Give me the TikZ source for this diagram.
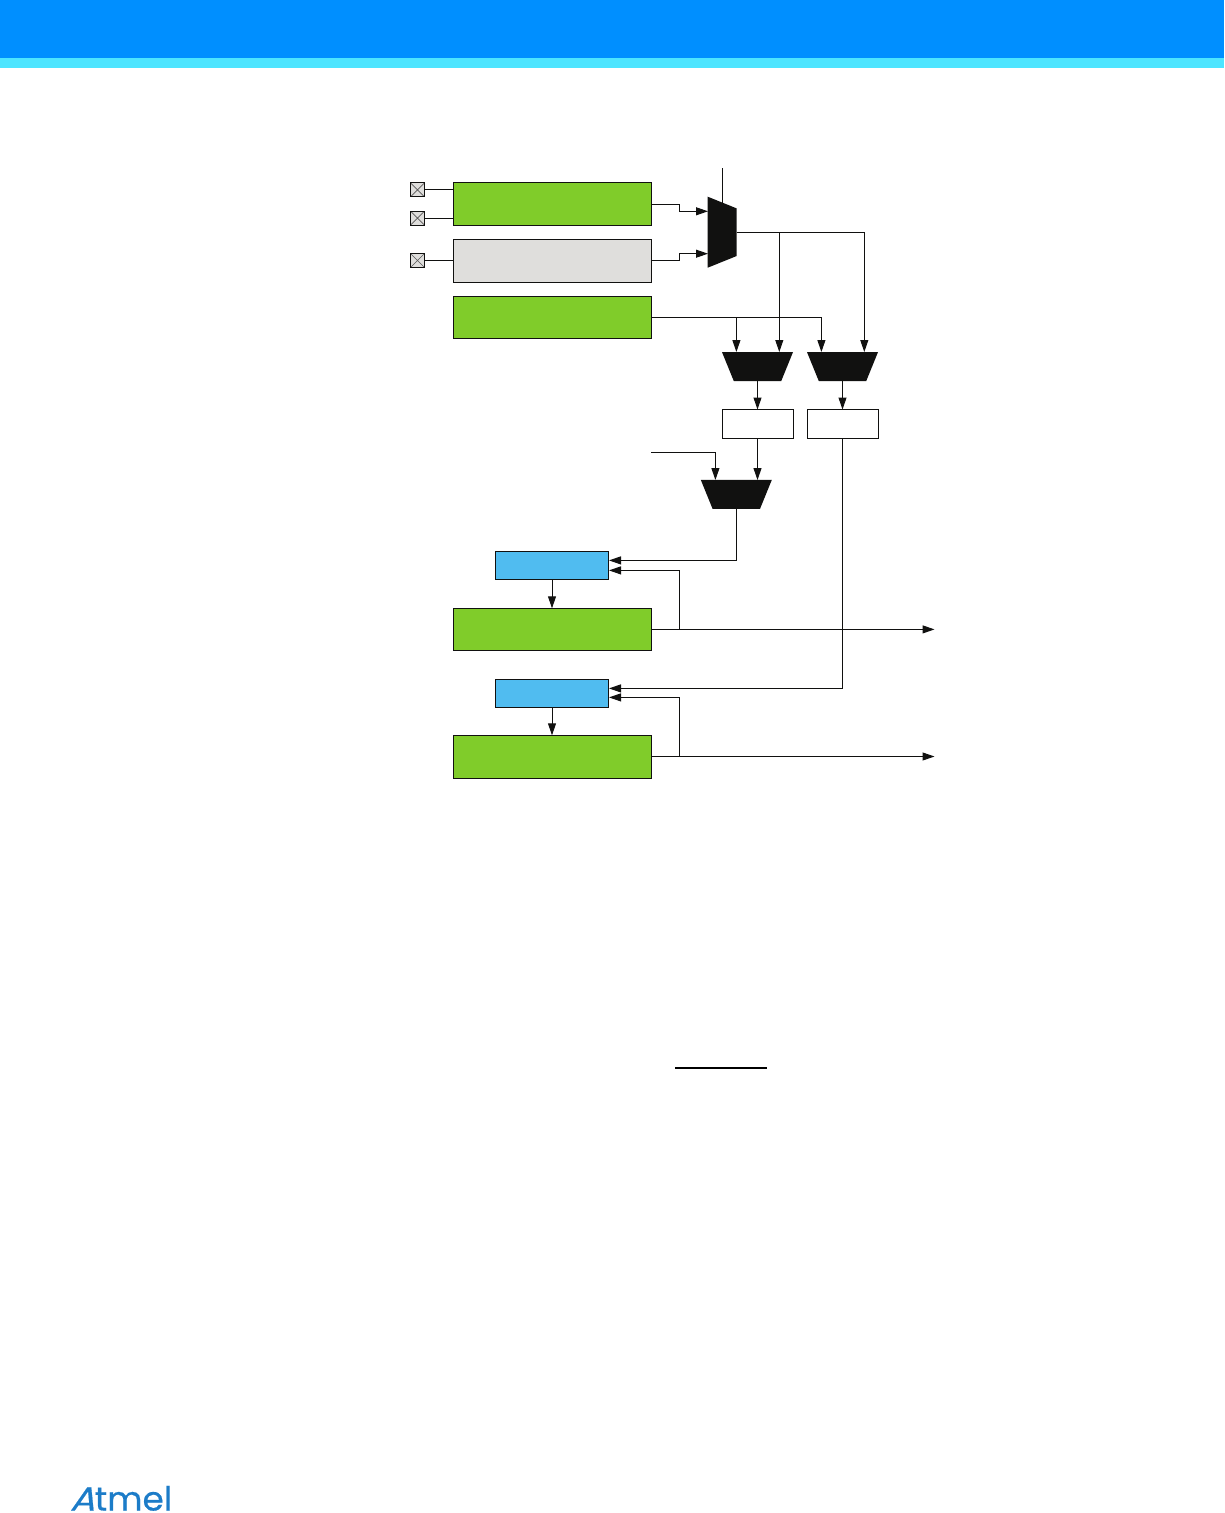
\documentclass[tikz,border=0pt]{standalone}
\usepackage{fontspec}
\usetikzlibrary{arrows.meta,calc}
\newfontfamily\logofont[FakeBold=0.5,FakeStretch=1.03]{Poppins}
\newfontfamily\logoslant[FakeSlant=0.3,FakeBold=0.5,FakeStretch=1.1]{Poppins}
\definecolor{lgreen}{HTML}{80CC2A}
\definecolor{lgray}{HTML}{DFDEDC}
\definecolor{lblue}{HTML}{50BCF0}
\definecolor{ink}{HTML}{111110}
\definecolor{hblue}{HTML}{008FFF}
\definecolor{hcyan}{HTML}{4DE5FF}
\definecolor{atmelblue}{HTML}{1C7CC8}
\tikzset{
  x=0.75pt,y=-0.75pt,
  every node/.style={inner sep=0pt,outer sep=0pt},
  block/.style={draw=ink,line width=0.75pt,minimum width=148.5pt,minimum height=31.5pt},
  greenblock/.style={block,fill=lgreen},
  grayblock/.style={block,fill=lgray},
  blueblock/.style={draw=ink,line width=0.75pt,fill=lblue,minimum width=84.75pt,minimum height=21pt},
  whitebox/.style={draw=ink,line width=0.75pt,fill=white,minimum width=53pt,minimum height=21.75pt},
  pad/.style={draw=ink,line width=0.75pt,fill=lgray,minimum width=10.5pt,minimum height=10.5pt,
    path picture={\draw[line width=0.5pt,ink!70] (path picture bounding box.north west)--(path picture bounding box.south east)
      (path picture bounding box.north east)--(path picture bounding box.south west);}},
  hmux/.style={minimum width=53.25pt,minimum height=21.75pt},
  vmux/.style={minimum width=21.75pt,minimum height=53.25pt},
  muxfill/.style={fill=ink},
  wire/.style={draw=ink,line width=0.75pt},
  arrow/.style={wire,-{Triangle[length=9pt,width=6pt]}},
}
\newcommand{\hmuxshape}[1]{\fill[muxfill] (#1.north west) -- (#1.north east) -- ($(#1.south east)+(-11.8,0)$) -- ($(#1.south west)+(11.8,0)$) -- cycle;}
\newcommand{\vmuxshape}[1]{\fill[muxfill] (#1.north west) -- ($(#1.north east)+(0,11.7)$) -- ($(#1.south east)+(0,-11.7)$) -- (#1.south west) -- cycle;}
\begin{document}
\begin{tikzpicture}
\useasboundingbox (0,0) rectangle (1224,1513);
% header bands
\node[fill=hblue,minimum width=918pt,minimum height=43.5pt,anchor=north west] (headerband) at (0,0) {};
\node[fill=hcyan,minimum width=918pt,minimum height=7.5pt,anchor=north west] (headerstripe) at (0,58) {};

% blocks
\node[greenblock,minimum height=32.25pt] (g1) at (552.5,203.8) {};
\node[grayblock,minimum height=32.25pt] (gy) at (552.5,260.8) {};
\node[greenblock] (g2) at (552.5,317.3) {};
\node[greenblock] (g3) at (552.5,629.3) {};
\node[greenblock,minimum height=32.25pt] (g4) at (552.5,756.8) {};
\node[blueblock] (b1) at (552,565.3) {};
\node[blueblock] (b2) at (552,693.3) {};
\node[whitebox] (r1) at (758,424) {};
\node[whitebox] (r2) at (843,424) {};
% pads
\node[pad] (p1) at (417.5,189.8) {};
\node[pad] (p2) at (417.5,218.2) {};
\node[pad] (p3) at (417.5,260.5) {};
% muxes
\node[vmux] (m0) at (722.2,232.2) {};
\node[hmux] (m1) at (757.5,366.6) {};
\node[hmux] (m2) at (842.5,366.6) {};
\node[hmux] (m3) at (736.3,494.4) {};
\vmuxshape{m0}
\hmuxshape{m1}
\hmuxshape{m2}
\hmuxshape{m3}

% named free ends and targets
\coordinate (sel) at (722.2,168);
\coordinate (selend) at (722.2,203);
\coordinate (g1o) at (651.7,204.3);
\coordinate (gyo) at (651.7,260.4);
\coordinate (g2o) at (651.7,317.4);
\coordinate (g3o) at (651.7,629.4);
\coordinate (g4o) at (651.7,756.5);
\coordinate (m0in1) at (708,211.3);
\coordinate (m0in2) at (708,253.7);
\coordinate (j1) at (679.4,204.3);
\coordinate (j2) at (679.4,260.4);
\coordinate (m0out) at (736.5,232.3);
\coordinate (m1a) at (736.4,352);
\coordinate (m1b) at (779.3,352);
\coordinate (m2a) at (821.4,352);
\coordinate (m2b) at (864.3,352);
\coordinate (extin) at (651,452.3);
\coordinate (m3a) at (715.4,480);
\coordinate (m3b) at (757.5,480);
\coordinate (b1a) at (609,560.4);
\coordinate (b1b) at (609,570.4);
\coordinate (b2a) at (609,688.4);
\coordinate (b2b) at (609,697.4);
\coordinate (g3fb) at (679.4,629.4);
\coordinate (g4fb) at (679.4,756.5);
\coordinate (out1) at (934.5,629.4);
\coordinate (out2) at (934.5,756.5);
\coordinate (barl) at (675,1068);
\coordinate (barr) at (767,1068);

% pad connections
\draw[wire] (p1.east) -- (p1.east -| g1.west);
\draw[wire] (p2.east) -- (p2.east -| g1.west);
\draw[wire] (p3.east) -- (p3.east -| gy.west);
% top mux
\draw[wire] (sel) -- (selend);
\draw[arrow] (g1o) -- (j1) |- (m0in1);
\draw[arrow] (gyo) -- (j2) |- (m0in2);
\draw[arrow] (m0out) -| (m1b);
\draw[arrow] (m0out) -| (m2b);
\draw[arrow] (g2o) -| (m2a);
\draw[arrow] (g2o) -| (m1a);
% mux to registers
\draw[arrow] (m1.south) -- (m1.south |- r1.north);
\draw[arrow] (m2.south) -- (m2.south |- r2.north);
\draw[arrow] (m3b |- r1.south) -- (m3b);
\draw[arrow] (extin) -| (m3a);
% to blue blocks
\draw[arrow] (m3.south) |- (b1a);
\draw[arrow] (m2.south |- r2.south) |- (b2a);
\draw[arrow] (b1.south) -- (b1.south |- g3.north);
\draw[arrow] (b2.south) -- (b2.south |- g4.north);
\draw[arrow] (g3fb) |- (b1b);
\draw[arrow] (g4fb) |- (b2b);
\draw[arrow] (g3o) -- (out1);
\draw[arrow] (g4o) -- (out2);
% fraction bar
\draw[draw=black,line width=0.9pt] (barl) -- (barr);
% logo
\node[anchor=base west,text=atmelblue,font=\fontsize{25pt}{25pt}\selectfont] (logo) at (70,1510.5) {{\logoslant A}\logofont tmel};
\end{tikzpicture}
\end{document}
